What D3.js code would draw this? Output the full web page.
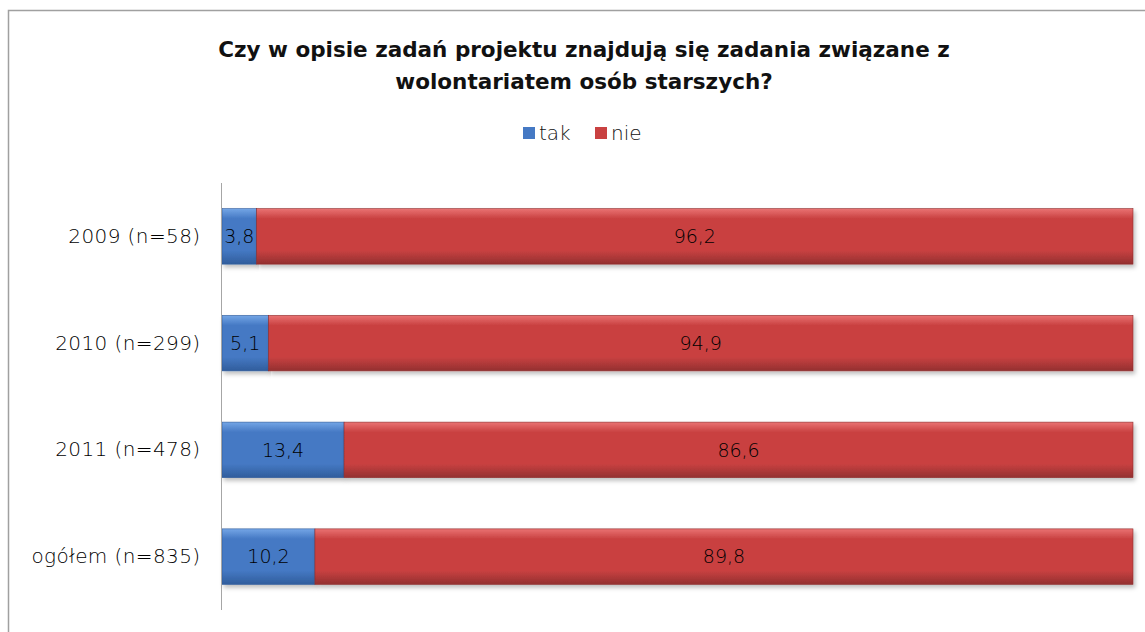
<!DOCTYPE html>
<html>
<head>
<meta charset="utf-8">
<script src="https://cdn.jsdelivr.net/npm/d3@7"></script>
<style>
  body { margin: 0; background: #fff; }
  svg text { font-family: "DejaVu Sans", sans-serif; }
</style>
</head>
<body>
<svg id="chart"></svg>
<script>
// data
const categories = ["2009 (n=58)", "2010 (n=299)", "2011 (n=478)", "ogółem (n=835)"];
const tak = [3.8, 5.1, 13.4, 10.2];
const nie = [96.2, 94.9, 86.6, 89.8];
const seriesNames = ["tak", "nie"];

const width = 1145, height = 632;
const margin = { top: 183, right: 12, bottom: 22, left: 222 };

const svg = d3.select("#chart").attr("width", width).attr("height", height);

// outer frame
svg.append("rect")
  .attr("x", 8.5).attr("y", 10.5)
  .attr("width", 1200).attr("height", 700)
  .attr("fill", "#fff").attr("stroke", "#a0a0a0").attr("stroke-width", 1.5);

const defs = svg.append("defs");
function grad(id, top, mid, bot) {
  const g = defs.append("linearGradient").attr("id", id)
    .attr("x1", 0).attr("y1", 0).attr("x2", 0).attr("y2", 1);
  g.append("stop").attr("offset", "0%").attr("stop-color", top);
  g.append("stop").attr("offset", "18%").attr("stop-color", mid);
  g.append("stop").attr("offset", "75%").attr("stop-color", mid);
  g.append("stop").attr("offset", "100%").attr("stop-color", bot);
}
grad("g-tak", "#74a6e6", "#4579c4", "#305d9c");
grad("g-nie", "#ea7373", "#c94141", "#933030");
const flt = defs.append("filter").attr("id", "shadow")
  .attr("x", "-5%").attr("y", "-20%").attr("width", "110%").attr("height", "150%");
flt.append("feDropShadow").attr("dx", 2).attr("dy", 3).attr("stdDeviation", 2)
  .attr("flood-color", "#000").attr("flood-opacity", 0.25);

const colors = { tak: "url(#g-tak)", nie: "url(#g-nie)" };
const legendColors = { tak: "#4579c4", nie: "#c94141" };

const x = d3.scaleLinear().domain([0, 100]).range([margin.left, width - margin.right]);
const y = d3.scaleBand().domain(categories)
  .range([margin.top, height - margin.bottom]).paddingInner(0.48).paddingOuter(0.24);

const rows = categories.map((c, i) => ({ cat: c, tak: tak[i], nie: nie[i] }));
const stacked = d3.stack().keys(seriesNames)(rows);

const layers = svg.append("g").selectAll("g").data(stacked).join("g");
layers.selectAll("rect").data(d => d.map(v => ({ key: d.key, v })))
  .join("rect")
  .attr("x", d => x(d.v[0]))
  .attr("y", d => y(d.v.data.cat))
  .attr("width", d => x(d.v[1]) - x(d.v[0]))
  .attr("height", y.bandwidth())
  .attr("fill", d => colors[d.key])
  .attr("stroke", d => d.key === "tak" ? "#2f5a9a" : "#8e2c2c")
  .attr("stroke-width", 0.6)
  .attr("filter", "url(#shadow)");

// value labels
layers.selectAll("text").data(d => d.map(v => ({ key: d.key, v })))
  .join("text")
  .attr("x", d => (x(d.v[0]) + x(d.v[1])) / 2)
  .attr("y", d => y(d.v.data.cat) + y.bandwidth() / 2)
  .attr("dy", "0.36em")
  .attr("text-anchor", "middle")
  .attr("font-size", 19)
  .attr("font-weight", 300)
  .attr("fill", "#000")
  .text(d => String(d.v.data[d.key]).replace(".", ","));

// y axis
const yAxis = svg.append("g")
  .attr("transform", `translate(${margin.left - 0.5},0)`)
  .call(d3.axisLeft(y).tickSize(0).tickPadding(21));
yAxis.select(".domain").attr("stroke", "#a6a6a6")
  .attr("d", `M0,${margin.top}V${height - margin.bottom}`);
yAxis.selectAll("text").attr("font-size", 20).attr("fill", "#000")
  .attr("font-weight", 300)
  .style("letter-spacing", "0.4px")
  .style("font-family", "DejaVu Sans, sans-serif");

// title
const title = svg.append("text").attr("text-anchor", "middle")
  .attr("font-weight", "bold").attr("font-size", 21.5).attr("fill", "#111");
title.append("tspan").attr("x", 584).attr("y", 57)
  .text("Czy w opisie zadań projektu znajdują się zadania związane z");
title.append("tspan").attr("x", 584).attr("y", 89)
  .text("wolontariatem osób starszych?");

// legend
const leg = svg.append("g").attr("transform", "translate(523,133)");
const li = leg.selectAll("g").data(seriesNames).join("g")
  .attr("transform", (d, i) => `translate(${i * 72},0)`);
li.append("rect").attr("x", 0).attr("y", -6).attr("width", 12).attr("height", 12)
  .attr("fill", d => legendColors[d]);
li.append("text").attr("x", 16).attr("dy", "0.36em")
  .attr("font-size", 20).attr("font-weight", 300).attr("fill", "#111").text(d => d);
</script>
</body>
</html>
